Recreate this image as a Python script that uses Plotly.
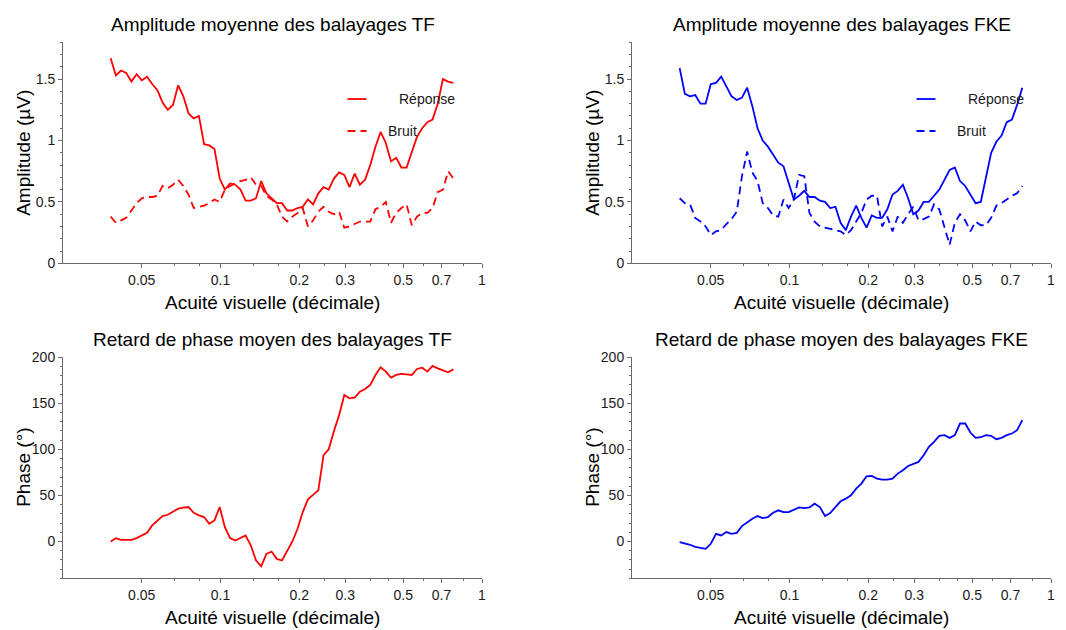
import plotly.graph_objects as go

# ---------------- data ----------------
acuity = [0.03804, 0.03982, 0.04168, 0.04363, 0.04567, 0.04781, 0.05004, 0.05238, 0.05483, 0.05740,
          0.06008, 0.06289, 0.06583, 0.06891, 0.07213, 0.07551, 0.07904, 0.08273, 0.08660, 0.09065,
          0.09489, 0.09933, 0.10397, 0.10884, 0.11393, 0.11925, 0.12483, 0.13067, 0.13678, 0.14318,
          0.14987, 0.15688, 0.16422, 0.17190, 0.17994, 0.18835, 0.19716, 0.20638, 0.21603, 0.22613,
          0.23671, 0.24778, 0.25937, 0.27150, 0.28420, 0.29749, 0.31140, 0.32596, 0.34121, 0.35716,
          0.37387, 0.39135, 0.40966, 0.42882, 0.44887, 0.46986, 0.49184, 0.51484, 0.53892, 0.56412,
          0.59050, 0.61812, 0.64703, 0.67729, 0.70896, 0.74212, 0.77683]

tf_response = [1.67, 1.53, 1.57, 1.55, 1.48, 1.54, 1.49, 1.52, 1.46, 1.41,
               1.31, 1.25, 1.29, 1.45, 1.36, 1.22, 1.18, 1.20, 0.97, 0.96,
               0.93, 0.69, 0.60, 0.65, 0.64, 0.60, 0.51, 0.51, 0.53, 0.67,
               0.57, 0.53, 0.49, 0.49, 0.43, 0.43, 0.45, 0.46, 0.52, 0.48,
               0.57, 0.62, 0.60, 0.69, 0.74, 0.72, 0.62, 0.73, 0.64, 0.68,
               0.80, 0.95, 1.07, 0.98, 0.83, 0.86, 0.78, 0.78, 0.90, 1.03,
               1.10, 1.15, 1.17, 1.30, 1.50, 1.48, 1.47]
tf_noise = [0.38, 0.33, 0.35, 0.37, 0.43, 0.49, 0.53, 0.54, 0.54, 0.55,
            0.63, 0.61, 0.64, 0.68, 0.63, 0.56, 0.45, 0.46, 0.47, 0.49,
            0.52, 0.50, 0.60, 0.63, 0.65, 0.67, 0.68, 0.70, 0.64, 0.63,
            0.55, 0.52, 0.48, 0.38, 0.34, 0.38, 0.41, 0.45, 0.30, 0.35,
            0.42, 0.46, 0.42, 0.40, 0.42, 0.29, 0.30, 0.32, 0.34, 0.34,
            0.34, 0.44, 0.46, 0.50, 0.33, 0.41, 0.45, 0.48, 0.31, 0.38,
            0.41, 0.41, 0.45, 0.58, 0.60, 0.75, 0.69]
fke_response = [1.59, 1.38, 1.36, 1.37, 1.30, 1.30, 1.46, 1.47, 1.52, 1.44,
                1.36, 1.33, 1.35, 1.43, 1.28, 1.10, 1.00, 0.95, 0.89, 0.82,
                0.79, 0.65, 0.52, 0.55, 0.59, 0.54, 0.54, 0.51, 0.50, 0.45,
                0.46, 0.33, 0.27, 0.38, 0.47, 0.37, 0.29, 0.39, 0.37, 0.37,
                0.44, 0.56, 0.59, 0.64, 0.53, 0.40, 0.43, 0.50, 0.50, 0.55,
                0.60, 0.68, 0.76, 0.78, 0.67, 0.63, 0.56, 0.49, 0.50, 0.71,
                0.90, 0.99, 1.04, 1.15, 1.17, 1.29, 1.43]
fke_noise = [0.53, 0.49, 0.48, 0.37, 0.34, 0.30, 0.23, 0.26, 0.27, 0.32,
             0.36, 0.42, 0.71, 0.91, 0.74, 0.67, 0.49, 0.45, 0.39, 0.38,
             0.52, 0.45, 0.52, 0.72, 0.71, 0.41, 0.34, 0.30, 0.29, 0.28,
             0.27, 0.26, 0.23, 0.27, 0.34, 0.41, 0.52, 0.55, 0.55, 0.30,
             0.38, 0.26, 0.38, 0.33, 0.40, 0.46, 0.35, 0.36, 0.38, 0.48,
             0.44, 0.30, 0.15, 0.33, 0.40, 0.35, 0.26, 0.34, 0.31, 0.31,
             0.37, 0.47, 0.49, 0.52, 0.55, 0.57, 0.63]
tf_phase = [0, 3.6, 1.8, 1.8, 1.8, 3.6, 6.5, 9.4, 17.4, 22.9,
            27.6, 29, 32.7, 35.6, 36.7, 37.4, 31.2, 28.3, 26.5, 19.2,
            22.9, 37.4, 15.6, 3.6, 1.1, 3.6, 6.5, -4.4, -20.7, -26.9,
            -13.4, -10.9, -18.9, -20.7, -9.8, 0, 13.8, 31.9, 45.7, 50.1,
            55.5, 93.6, 100.2, 119.8, 137.2, 159, 155.4, 156.1, 162.6, 165.5,
            169.9, 180.8, 189.1, 184.4, 177.9, 180.8, 181.9, 181.5, 180.8, 187.3,
            188.7, 184.4, 190.6, 188, 186.2, 183.7, 186.9]
fke_phase = [-0.7, -1.8, -3.6, -5.8, -6.9, -8, -2.5, 8.3, 6.5, 10.2,
             8.3, 9.4, 16.7, 21.1, 24.7, 27.6, 25.4, 26.5, 31.2, 33.8,
             31.9, 31.9, 34.5, 37, 36.3, 37, 41, 37.4, 27.6, 30.9,
             37.4, 43.6, 46.5, 50.1, 57.4, 62.8, 70.8, 71.1, 68.2, 67.2,
             67.2, 68.2, 73.7, 77.3, 82, 84.6, 86.4, 93.6, 102.7, 108.2,
             114.7, 115.4, 112.5, 115.4, 128.1, 128.1, 118.3, 112.5, 113.2, 115.4,
             114.7, 111.1, 112.5, 115.4, 117.2, 120.9, 131.8]

x_ticks = [0.05, 0.1, 0.2, 0.3, 0.5, 0.7, 1]
x_ticklabels = ["0.05", "0.1", "0.2", "0.3", "0.5", "0.7", "1"]
x_minor = [0.0667, 0.0833, 0.1333, 0.1667, 0.25, 0.375, 0.44, 0.6, 0.85]
amp_ticks = [0, 0.5, 1, 1.5]
amp_ticklabels = ["0", "0.5", "1", "1.5"]
phase_ticks = [0, 50, 100, 150, 200]

titles = ["Amplitude moyenne des balayages TF", "Amplitude moyenne des balayages FKE",
          "Retard de phase moyen des balayages TF", "Retard de phase moyen des balayages FKE"]
x_title = "Acuité visuelle (décimale)"
y_titles = ["Amplitude (µV)", "Phase (°)"]
legend_labels = ["Réponse", "Bruit"]

RED = "#ff0000"
BLUE = "#0000ff"
AXC = "#6a6a6a"
TXT = "#1a1a1a"
FONT = "Liberation Sans, Arial, sans-serif"
OFF = 8                      # the page body margin that shifts the figure
W, H = 1066 - OFF, 630 - OFF
DASH = "8px,5px"
LW = 1.8

fig = go.Figure()

fig.add_trace(go.Scatter(x=acuity, y=tf_response, mode="lines", line=dict(color=RED, width=LW),
                         name="Réponse TF", xaxis="x", yaxis="y"))
fig.add_trace(go.Scatter(x=acuity, y=tf_noise, mode="lines", line=dict(color=RED, width=LW, dash=DASH),
                         name="Bruit TF", xaxis="x", yaxis="y"))
fig.add_trace(go.Scatter(x=acuity, y=fke_response, mode="lines", line=dict(color=BLUE, width=LW),
                         name="Réponse FKE", xaxis="x2", yaxis="y2"))
fig.add_trace(go.Scatter(x=acuity, y=fke_noise, mode="lines", line=dict(color=BLUE, width=LW, dash=DASH),
                         name="Bruit FKE", xaxis="x2", yaxis="y2"))
fig.add_trace(go.Scatter(x=acuity, y=tf_phase, mode="lines", line=dict(color=RED, width=LW),
                         name="Phase TF", xaxis="x3", yaxis="y3"))
fig.add_trace(go.Scatter(x=acuity, y=fke_phase, mode="lines", line=dict(color=BLUE, width=LW),
                         name="Phase FKE", xaxis="x4", yaxis="y4"))

# page-pixel geometry of the four plot areas
px_left = [63, 632]
px_right = [482, 1051]
py_top = [42.3, 357.3]
py_bot = [263.3, 578.3]


def fx(px):
    return (px - OFF) / W


def fy(py):
    return 1 - (py - OFF) / H


def xdom(c):
    return [fx(px_left[c]), fx(px_right[c])]


def ydom(r):
    return [fy(py_bot[r]), fy(py_top[r])]


common_axis = dict(ticks="outside", ticklen=4, tickwidth=1, tickcolor=AXC,
                   showline=True, linecolor=AXC, linewidth=1, showgrid=False, zeroline=False,
                   automargin=False, tickfont=dict(size=14, color=TXT, family=FONT))


def xaxis_cfg(c, anchor):
    return dict(domain=xdom(c), anchor=anchor, type="log", range=[-1.602, 0],
                tickmode="array", tickvals=x_ticks, ticktext=x_ticklabels,
                minor=dict(tickmode="array", tickvals=x_minor, ticks="outside", ticklen=2,
                           tickcolor=AXC, showgrid=False),
                **common_axis)


def yaxis_amp(anchor, dom):
    return dict(domain=dom, anchor=anchor, range=[0, 1.8], tickmode="array",
                tickvals=amp_ticks, ticktext=amp_ticklabels,
                minor=dict(dtick=0.1, tick0=0, ticks="outside", ticklen=2, tickcolor=AXC, showgrid=False),
                **common_axis)


def yaxis_phase(anchor, dom):
    return dict(domain=dom, anchor=anchor, range=[-40, 200], tickmode="array",
                tickvals=phase_ticks,
                minor=dict(dtick=10, tick0=0, ticks="outside", ticklen=2, tickcolor=AXC, showgrid=False),
                **common_axis)


fig.update_layout(
    template="none",
    width=W, height=H, margin=dict(l=0, r=0, t=0, b=0, autoexpand=False),
    paper_bgcolor="white", plot_bgcolor="white",
    font=dict(family=FONT, color=TXT),
    showlegend=False,
    xaxis=xaxis_cfg(0, "y"), yaxis=yaxis_amp("x", ydom(0)),
    xaxis2=xaxis_cfg(1, "y2"), yaxis2=yaxis_amp("x2", ydom(0)),
    xaxis3=xaxis_cfg(0, "y3"), yaxis3=yaxis_phase("x3", ydom(1)),
    xaxis4=xaxis_cfg(1, "y4"), yaxis4=yaxis_phase("x4", ydom(1)),
)

annotations = []
shapes = []
panels = [(0, 0), (1, 0), (0, 1), (1, 1)]
for i, (c, r) in enumerate(panels):
    cx = fx((px_left[c] + px_right[c]) / 2)
    annotations.append(dict(text=titles[i], xref="paper", yref="paper", x=cx,
                            y=fy(py_top[r] - 17.5), xanchor="center", yanchor="middle",
                            showarrow=False, font=dict(size=19, color="#000", family=FONT)))
    annotations.append(dict(text=x_title, xref="paper", yref="paper", x=cx,
                            y=fy(py_bot[r] + 39), xanchor="center", yanchor="middle",
                            showarrow=False, font=dict(size=19, color="#000", family=FONT)))
    annotations.append(dict(text=y_titles[r], xref="paper", yref="paper",
                            x=fx(px_left[c] - 39),
                            y=fy((py_top[r] + py_bot[r]) / 2), xanchor="center", yanchor="middle",
                            textangle=-90, showarrow=False,
                            font=dict(size=19, color="#000", family=FONT)))

# legends of the amplitude panels
for c, col, xa, ya in [(0, RED, "x", "y"), (1, BLUE, "x2", "y2")]:
    pw = px_right[c] - px_left[c]
    ph = py_bot[0] - py_top[0]
    lx0 = 284.5 / pw
    lx1 = 303.5 / pw
    yr = (py_bot[0] - 99) / ph
    yb = (py_bot[0] - 131) / ph
    shapes.append(dict(type="line", xref=f"{xa} domain", yref=f"{ya} domain",
                       x0=lx0, x1=lx1, y0=yr, y1=yr, line=dict(color=col, width=LW)))
    shapes.append(dict(type="line", xref=f"{xa} domain", yref=f"{ya} domain",
                       x0=lx0, x1=lx1, y0=yb, y1=yb, line=dict(color=col, width=LW, dash=DASH)))
    annotations.append(dict(text=legend_labels[0], xref=f"{xa} domain", yref=f"{ya} domain",
                            x=334 / pw, y=yr, xanchor="left", yanchor="middle", showarrow=False,
                            font=dict(size=14, color=TXT, family=FONT)))
    annotations.append(dict(text=legend_labels[1], xref=f"{xa} domain", yref=f"{ya} domain",
                            x=322.5 / pw, y=yb, xanchor="left", yanchor="middle", showarrow=False,
                            font=dict(size=14, color=TXT, family=FONT)))

fig.update_layout(annotations=annotations, shapes=shapes)
fig.write_html("out.html")
